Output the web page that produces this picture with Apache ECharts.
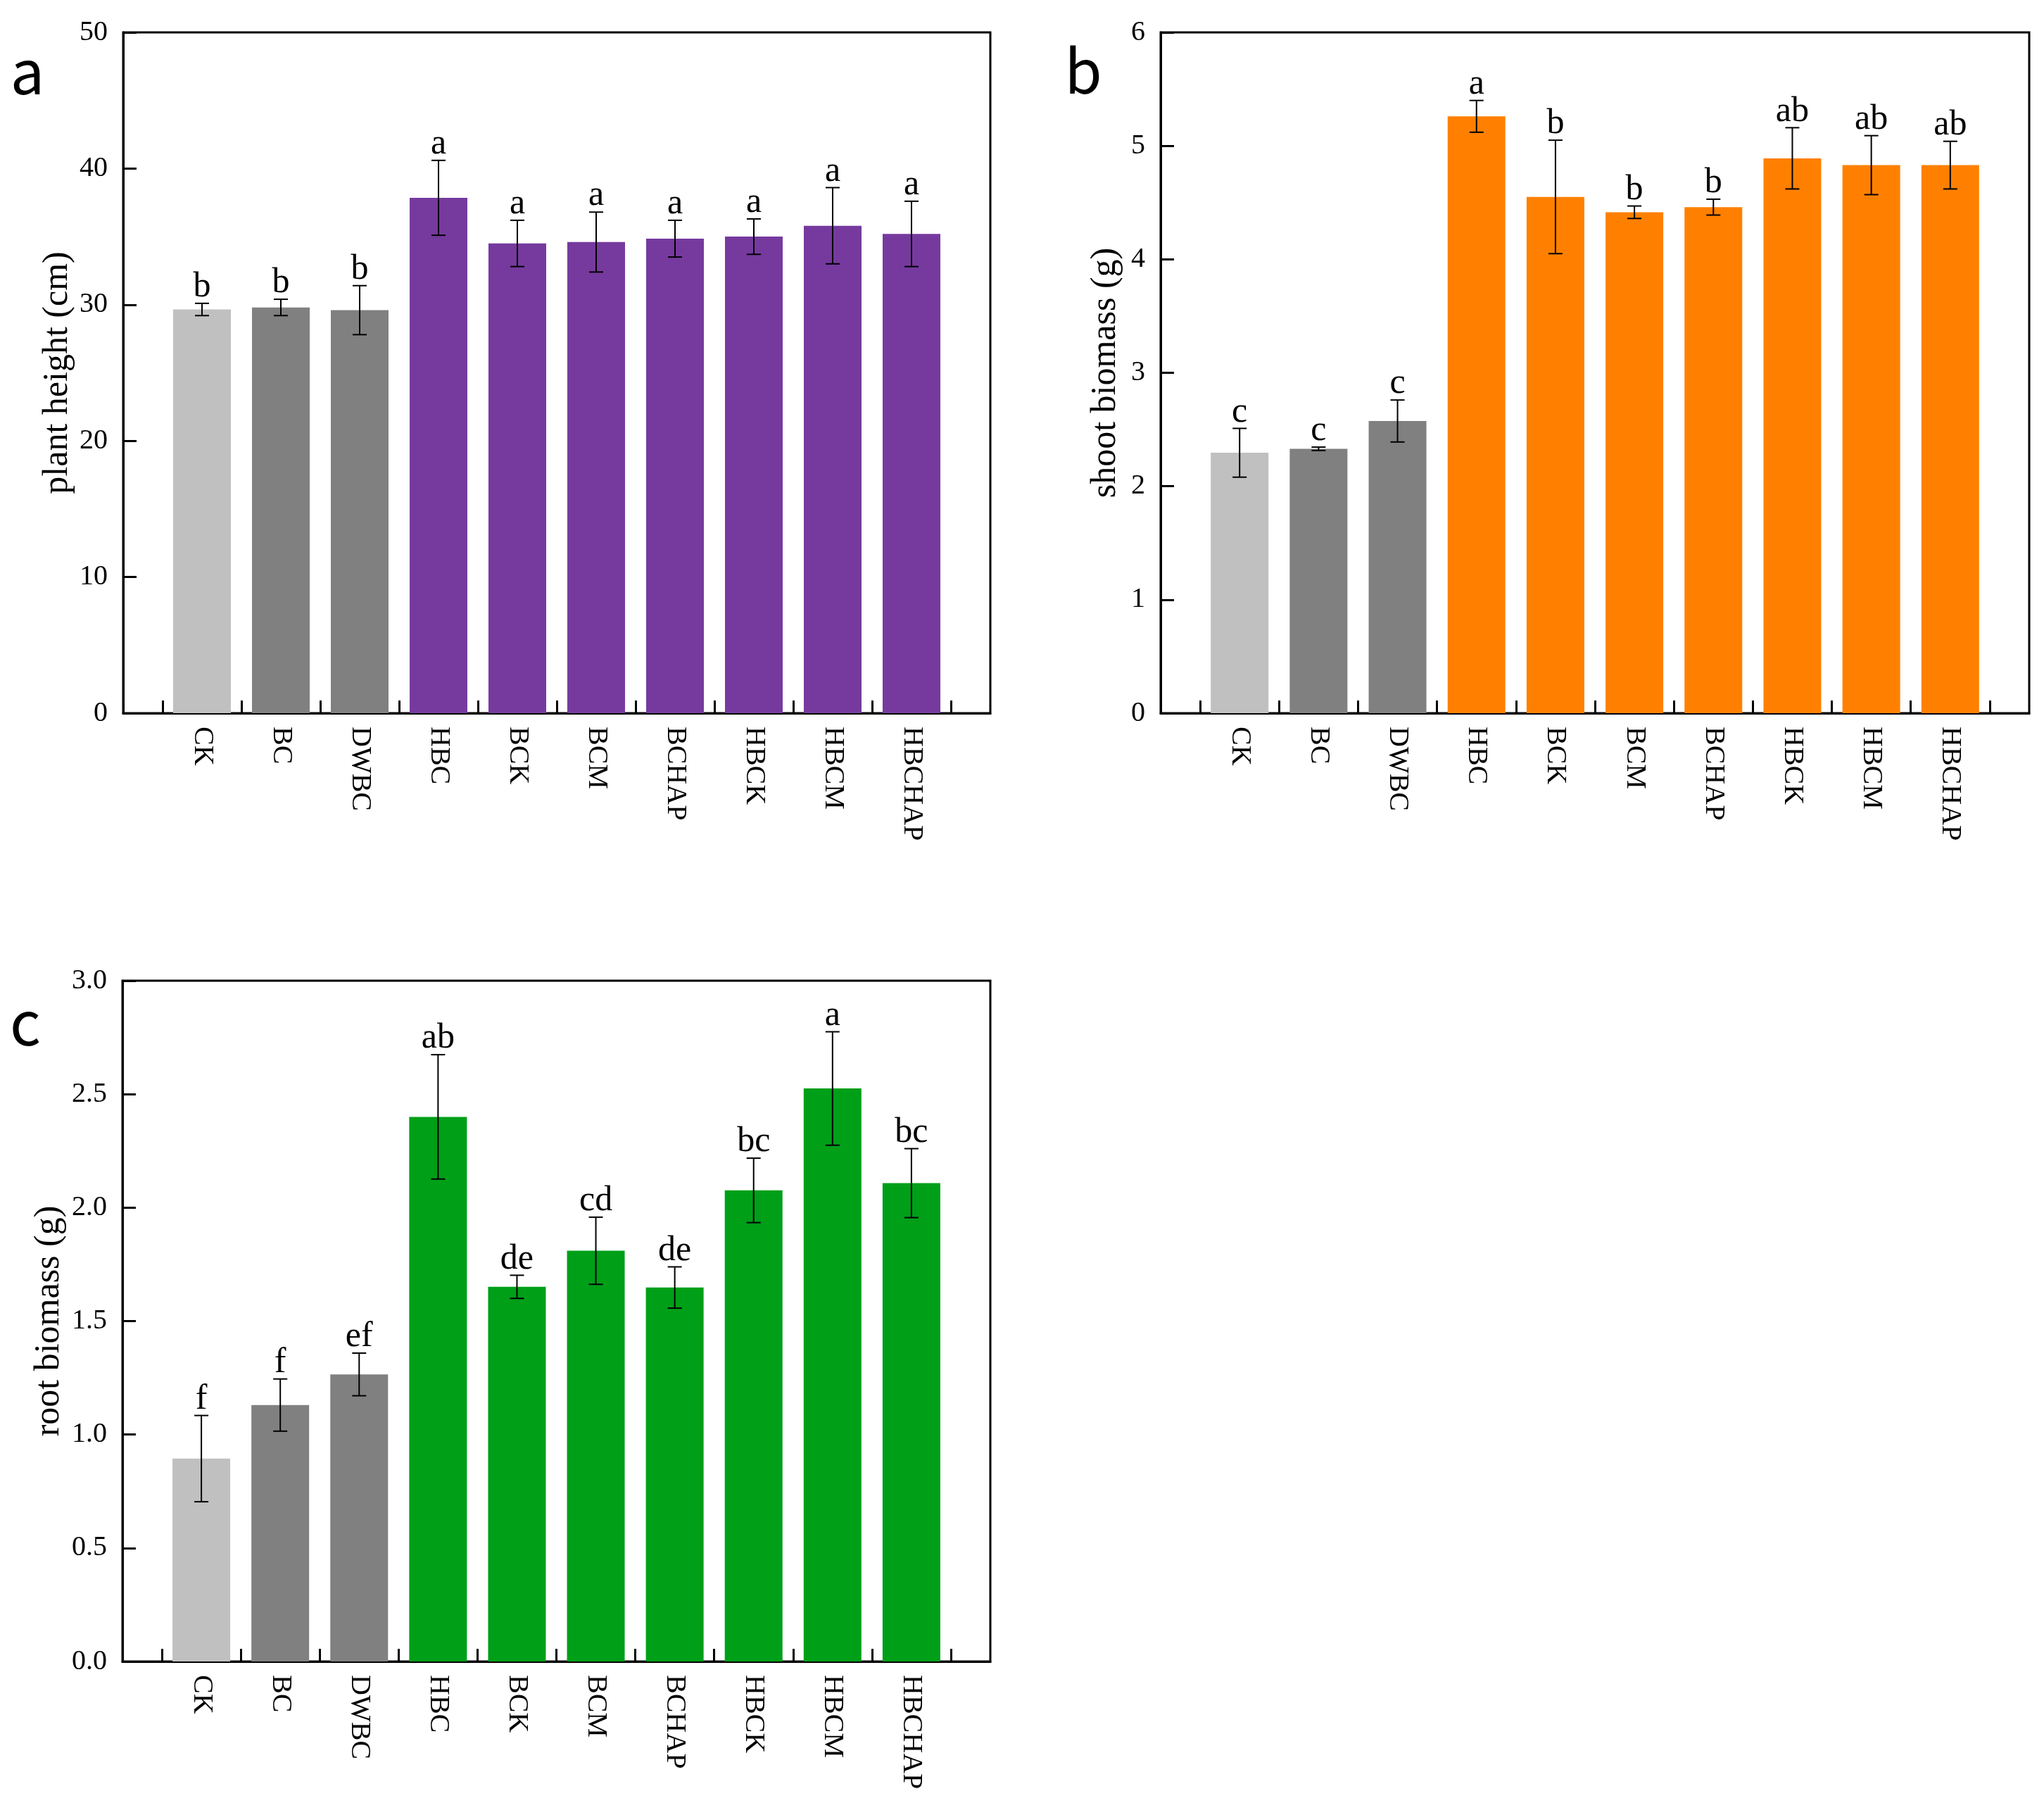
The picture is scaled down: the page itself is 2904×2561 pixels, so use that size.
<!DOCTYPE html>
<html>
<head>
<meta charset="utf-8">
<script src="https://cdn.jsdelivr.net/npm/echarts@6/dist/echarts.min.js"></script>
<style>html,body{margin:0;padding:0;background:#fff}#c{width:2904px;height:2561px}</style>
</head>
<body>
<div id="c"></div>
<script>
const categories = ['CK','BC','DWBC','HBC','BCK','BCM','BCHAP','HBCK','HBCM','HBCHAP'];

const heightMean = [29.65, 29.8, 29.6, 37.85, 34.5, 34.6, 34.85, 35.0, 35.8, 35.2];
const heightErr  = [0.45, 0.6, 1.8, 2.75, 1.7, 2.2, 1.35, 1.3, 2.8, 2.4];
const heightSig  = ['b','b','b','a','a','a','a','a','a','a'];

const shootMean = [2.295, 2.33, 2.575, 5.26, 4.55, 4.415, 4.46, 4.89, 4.83, 4.83];
const shootErr  = [0.215, 0.015, 0.185, 0.14, 0.5, 0.055, 0.07, 0.27, 0.26, 0.21];
const shootSig  = ['c','c','c','a','b','b','b','ab','ab','ab'];

const rootMean = [0.894, 1.13, 1.265, 2.40, 1.651, 1.81, 1.648, 2.076, 2.525, 2.108];
const rootErr  = [0.19, 0.115, 0.094, 0.274, 0.051, 0.148, 0.091, 0.142, 0.25, 0.152];
const rootSig  = ['f','f','ef','ab','de','cd','de','bc','a','bc'];

const heightTicks = [0, 10, 20, 30, 40, 50];
const shootTicks = [0, 1, 2, 3, 4, 5, 6];
const rootTicks = [0, 0.5, 1.0, 1.5, 2.0, 2.5, 3.0];

const SERIF = '"Liberation Serif", "Times New Roman", serif';
const CK_COLOR = '#c0c0c0';
const GRAY = '#808080';
const panelColors = ['#763a9e', '#ff8000', '#009f18'];

const tickPositions = categories.map((c, i) => i + 0.5).concat([categories.length + 0.5]);
const labelPositions = categories.map((c, i) => i + 1);

const panels = [
  {grid: {left: 175, top: 46, width: 1232, height: 967}, mean: heightMean, err: heightErr, sig: heightSig,
   ticks: heightTicks, name: 'plant height (cm)', nameGap: 68, fmt: v => String(v), color: panelColors[0]},
  {grid: {left: 1649, top: 46, width: 1234, height: 967}, mean: shootMean, err: shootErr, sig: shootSig,
   ticks: shootTicks, name: 'shoot biomass (g)', nameGap: 53, fmt: v => String(v), color: panelColors[1]},
  {grid: {left: 174, top: 1393, width: 1233, height: 967}, mean: rootMean, err: rootErr, sig: rootSig,
   ticks: rootTicks, name: 'root biomass (g)', nameGap: 79, fmt: v => v.toFixed(1), color: panelColors[2]}
];

const grid = [], xAxis = [], yAxis = [], series = [];
panels.forEach((p, k) => {
  grid.push(Object.assign({show: true, borderColor: '#000', borderWidth: 3, backgroundColor: 'transparent'}, p.grid));
  xAxis.push({
    type: 'value', gridIndex: k, min: 0, max: categories.length + 1,
    axisLine: {show: true, onZero: false, lineStyle: {color: '#000', width: 3}},
    axisTick: {show: true, inside: true, length: 18, lineStyle: {color: '#000', width: 3}, customValues: tickPositions},
    axisLabel: {show: true, rotate: -90, margin: 19, fontFamily: SERIF, fontSize: 40, color: '#000',
      customValues: labelPositions, formatter: v => categories[Math.round(v) - 1] || ''},
    splitLine: {show: false}
  });
  const tmin = p.ticks[0], tmax = p.ticks[p.ticks.length - 1];
  yAxis.push({
    type: 'value', gridIndex: k, min: tmin, max: tmax, interval: p.ticks[1] - p.ticks[0],
    name: p.name, nameLocation: 'middle', nameGap: p.nameGap,
    nameTextStyle: {fontFamily: SERIF, fontSize: 50, color: '#000'},
    axisLine: {show: true, lineStyle: {color: '#000', width: 3}},
    axisTick: {show: true, inside: true, length: 19, lineStyle: {color: '#000', width: 3}},
    axisLabel: {margin: 22, fontFamily: SERIF, fontSize: 40, color: '#000', formatter: p.fmt},
    splitLine: {show: false}
  });
  series.push({
    type: 'bar', xAxisIndex: k, yAxisIndex: k, barWidth: 82, z: 2,
    data: p.mean.map((v, i) => ({
      value: [i + 1, v],
      itemStyle: {color: i === 0 ? CK_COLOR : (i < 3 ? GRAY : p.color)}
    }))
  });
  const sig = p.sig;
  series.push({
    type: 'custom', xAxisIndex: k, yAxisIndex: k, z: 5, clip: false,
    encode: {x: 0, y: 1},
    data: p.mean.map((v, i) => [i + 1, v, p.err[i]]),
    renderItem: function (params, api) {
      const x = api.value(0), m = api.value(1), e = api.value(2);
      const top = api.coord([x, m + e]);
      const bot = api.coord([x, m - e]);
      const cap = 10;
      const ls = {stroke: '#000', lineWidth: 2};
      return {type: 'group', children: [
        {type: 'line', shape: {x1: top[0], y1: top[1], x2: bot[0], y2: bot[1]}, style: ls},
        {type: 'line', shape: {x1: top[0] - cap, y1: top[1], x2: top[0] + cap, y2: top[1]}, style: ls},
        {type: 'line', shape: {x1: bot[0] - cap, y1: bot[1], x2: bot[0] + cap, y2: bot[1]}, style: ls},
        {type: 'text', x: top[0], y: top[1] + 2, style: {text: sig[params.dataIndex], fill: '#000',
          font: '50px ' + SERIF, align: 'center', verticalAlign: 'bottom'}}
      ]};
    }
  });
});

const chart = echarts.init(document.getElementById('c'), null, {renderer: 'canvas'});
chart.setOption({
  animation: false,
  backgroundColor: '#fff',
  grid, xAxis, yAxis, series,
  graphic: [
    {type: 'text', x: 39, y: 101, style: {text: 'a', font: '86px "Noto Sans CJK SC", "Noto Sans", sans-serif', fill: '#000', align: 'center', verticalAlign: 'middle'}},
    {type: 'text', x: 1539, y: 100, style: {text: 'b', font: '86px "Noto Sans CJK SC", "Noto Sans", sans-serif', fill: '#000', align: 'center', verticalAlign: 'middle'}},
    {type: 'text', x: 36, y: 1452, style: {text: 'c', font: '86px "Noto Sans CJK SC", "Noto Sans", sans-serif', fill: '#000', align: 'center', verticalAlign: 'middle'}}
  ]
});
</script>
</body>
</html>
